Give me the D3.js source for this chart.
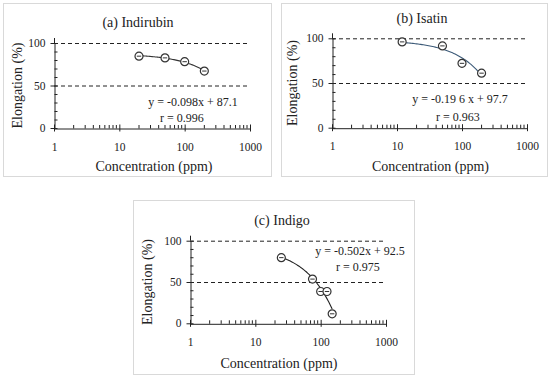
<!DOCTYPE html>
<html><head><meta charset="utf-8">
<script src="https://cdn.jsdelivr.net/npm/d3@7"></script>
<style>body{margin:0;background:#fff}svg{display:block}text{font-family:"Liberation Serif","Times New Roman",serif;fill:#222}</style>
</head><body>
<svg id="c" width="550" height="378"></svg>
<script>
// ---- data ----
const xTickValues = [1, 10, 100, 1000];
const yTickValues = [0, 50, 100];
const refLines = [50, 100];

const titleA = "(a) Indirubin";
const concA = [20, 50, 100, 200];
const elongA = [84.5, 82.5, 78, 67];
const fitA = [-0.098, 87.1];
const eqA = ["y = -0.098x + 87.1", "r = 0.996"];

const titleB = "(b) Isatin";
const concB = [12, 50, 100, 200];
const elongB = [96, 91.5, 72, 61];
const fitB = [-0.196, 97.7];
const eqB = ["y = -0.19 6 x + 97.7", "r = 0.963"];

const titleC = "(c) Indigo";
const concC = [25, 75, 100, 125, 150];
const elongC = [79.5, 53.5, 38.5, 38.5, 11.5];
const fitC = [-0.502, 92.5];
const eqC = ["y = -0.502x + 92.5", "r = 0.975"];

const xLabel = "Concentration (ppm)";
const yLabel = "Elongation (%)";

// ---- drawing ----
const svg = d3.select("#c");

function panel(o) {
  const g = svg.append("g");
  g.append("rect").attr("x", o.fx + 0.5).attr("y", o.fy + 0.5)
    .attr("width", o.fw).attr("height", o.fh)
    .attr("fill", "#fff").attr("stroke", "#d9d9d9");

  const x = d3.scaleLog().domain([1, 1000]).range([o.x0, o.x1]);
  const y = d3.scaleLinear().domain([0, 100]).range([o.y0, o.y1]);

  // dashed reference lines
  g.selectAll(".ref").data(refLines).join("line")
    .attr("x1", x(1)).attr("x2", x(1000))
    .attr("y1", d => y(d) + 0.5).attr("y2", d => y(d) + 0.5)
    .attr("stroke", "#222").attr("stroke-width", 1).attr("stroke-dasharray", "4,3");

  // y axis
  const ya = g.append("g").attr("transform", `translate(${x(1) + 0.5},0)`)
    .call(d3.axisLeft(y).tickValues(yTickValues).tickSize(4).tickSizeOuter(0));
  ya.select(".domain").attr("stroke", "#222");
  ya.selectAll(".tick line").attr("x2", -4).attr("x1", 3).attr("stroke", "#222");
  ya.selectAll(".tick text").attr("x", -9).style("font-size", "11.5px")
    .style("font-family", "Liberation Serif").attr("fill", "#222");
  // y minor ticks
  g.selectAll(".ymin").data(d3.range(10, 100, 10).filter(v => v % 50 !== 0)).join("line")
    .attr("x1", x(1) + 0.5).attr("x2", x(1) + 3.5)
    .attr("y1", d => y(d) + 0.5).attr("y2", d => y(d) + 0.5).attr("stroke", "#222");
  g.append("line").attr("x1", x(1) + 0.5).attr("x2", x(1) + 0.5)
    .attr("y1", y(100) - 5).attr("y2", y(100)).attr("stroke", "#222");

  // x axis
  const xa = g.append("g").attr("transform", `translate(0,${y(0) + 0.5})`)
    .call(d3.axisBottom(x).tickValues(xTickValues).tickFormat(d3.format("d")).tickSize(3).tickSizeOuter(0));
  xa.select(".domain").attr("stroke", "#222");
  xa.selectAll(".tick line").attr("y1", -4).attr("y2", 3).attr("stroke", "#222");
  xa.selectAll(".tick text").attr("y", 14).style("font-size", "11.5px")
    .style("font-family", "Liberation Serif").attr("fill", "#222");
  const minors = [];
  [1, 10, 100].forEach(dec => { for (let k = 2; k <= 9; k++) minors.push(dec * k); });
  g.selectAll(".xmin").data(minors).join("line")
    .attr("x1", d => x(d)).attr("x2", d => x(d))
    .attr("y1", y(0) + 0.5).attr("y2", y(0) - 3).attr("stroke", "#222");

  // trend line from displayed equation
  const lo = d3.min(o.conc), hi = d3.max(o.conc);
  const tl = d3.range(0, 61).map(i => lo * Math.pow(hi / lo, i / 60));
  g.append("path").datum(tl)
    .attr("d", d3.line().x(d => x(d)).y(d => y(o.fit[0] * d + o.fit[1])))
    .attr("fill", "none").attr("stroke", o.lineColor).attr("stroke-width", 1.1);

  // markers
  const pts = g.selectAll(".pt").data(o.conc.map((c, i) => [c, o.elong[i]])).join("g")
    .attr("transform", d => `translate(${x(d[0])},${y(d[1])})`);
  pts.append("circle").attr("r", 4).attr("fill", "#fff").attr("stroke", "#333").attr("stroke-width", 1.2);
  pts.append("line").attr("x1", -2.2).attr("x2", 2.2).attr("y1", 0).attr("y2", 0)
    .attr("stroke", "#333").attr("stroke-width", 1);

  // texts
  g.append("text").attr("x", o.tx).attr("y", o.ty).attr("text-anchor", "middle")
    .style("font-size", "14px").text(o.title);
  g.append("text").attr("x", (o.x0 + o.x1) / 2 + o.xlOff).attr("y", o.xly).attr("text-anchor", "middle")
    .style("font-size", "14px").text(xLabel);
  g.append("text").attr("transform", `translate(${o.ylx},${(o.y0 + o.y1) / 2}) rotate(-90)`)
    .attr("text-anchor", "middle").attr("dy", "0.35em")
    .style("font-size", "14px").text(yLabel);
  g.append("text").attr("x", o.ex).attr("y", o.ey).attr("text-anchor", "middle")
    .style("font-size", "12px").text(o.eq[0]);
  g.append("text").attr("x", o.rx).attr("y", o.ry).attr("text-anchor", "middle")
    .style("font-size", "12px").text(o.eq[1]);
}

panel({ fx: 3, fy: 3, fw: 268, fh: 173, x0: 54, x1: 250, y0: 128, y1: 43,
  conc: concA, elong: elongA, fit: fitA, eq: eqA, title: titleA, lineColor: "#333",
  tx: 138, ty: 27, xly: 171, xlOff: 2, ylx: 17, ex: 193, ey: 106, rx: 182, ry: 122 });

panel({ fx: 281, fy: 3, fw: 266, fh: 173, x0: 332, x1: 527, y0: 127.7, y1: 38.3,
  conc: concB, elong: elongB, fit: fitB, eq: eqB, title: titleB, lineColor: "#3c5a78",
  tx: 422, ty: 23, xly: 171, xlOff: 1, ylx: 292, ex: 460, ey: 103, rx: 458, ry: 121 });

panel({ fx: 133, fy: 200, fw: 281, fh: 174, x0: 190, x1: 386, y0: 323.3, y1: 240.7,
  conc: concC, elong: elongC, fit: fitC, eq: eqC, title: titleC, lineColor: "#222",
  tx: 282, ty: 225, xly: 368, xlOff: -9, ylx: 147, ex: 360, ey: 255, rx: 358, ry: 271 });
</script>
</body></html>
